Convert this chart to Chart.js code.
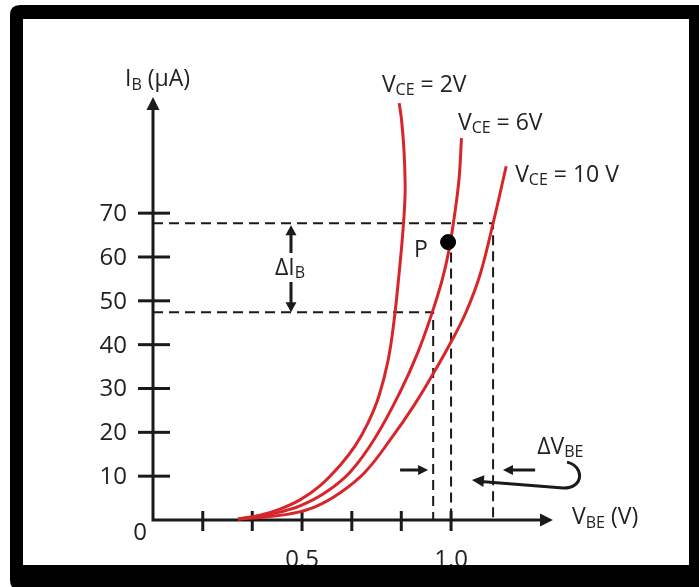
<!DOCTYPE html>
<html>
<head>
<meta charset="utf-8">
<script src="https://cdn.jsdelivr.net/npm/chart.js@4.4.0/dist/chart.umd.min.js"></script>
<style>
  html, body { margin: 0; padding: 0; background: #fff; }
  canvas { display: block; }
</style>
</head>
<body>
<canvas id="chart" width="699" height="587"></canvas>
<script>
// V_BE (V) and I_B (uA)
const vbe2V  = [0.285, 0.359, 0.426, 0.493, 0.560, 0.628, 0.678, 0.721, 0.758, 0.789, 0.809, 0.826, 0.836, 0.844, 0.846, 0.842, 0.834, 0.826];
const ib2V   = [0.2, 1.1, 2.5, 4.6, 7.8, 12.5, 16.9, 22.1, 28.3, 36.5, 45.6, 56.5, 63.8, 71.4, 76.4, 84.4, 91.2, 95.1];
const vbe6V  = [0.285, 0.359, 0.426, 0.493, 0.577, 0.661, 0.745, 0.829, 0.889, 0.936, 0.970, 0.993, 1.013, 1.027, 1.035];
const ib6V   = [0.2, 0.9, 1.8, 3.2, 6.2, 10.9, 18.7, 29.2, 38.3, 47.2, 54.7, 61.6, 70.2, 78.0, 87.1];
const vbe10V = [0.285, 0.376, 0.460, 0.544, 0.628, 0.711, 0.795, 0.879, 0.953, 1.003, 1.050, 1.097, 1.141, 1.185];
const ib10V  = [0.2, 0.7, 1.4, 3.0, 6.2, 10.9, 18.2, 26.5, 34.9, 41.0, 47.4, 55.9, 67.7, 80.7];

// construction lines
const ibHigh = 67.7, ibLow = 47.4;
const vbeLow = 0.94, vbeP = 1.0, vbeHigh = 1.141;
const pointP = { x: 0.99, y: 63.4 };

// axis ticks
const yTicks = [10, 20, 30, 40, 50, 60, 70];
const xTicks = [0.167, 0.333, 0.5, 0.667, 0.833, 1.0];
const xTickLabels = ['', '', '0.5', '', '', '1.0'];

const RED = '#d8252a';
const INK = '#1a1a1a';
const TEXT = '#222';
const FONT = '"Open Sans", "DejaVu Sans", sans-serif';

function zip(xs, ys) {
    return xs.map((v, i) => ({ x: v, y: ys[i] }));
}

function curve(label, xs, ys) {
    return {
        label: label,
        data: zip(xs, ys),
        showLine: true,
        borderColor: RED,
        borderWidth: 3,
        pointRadius: 0,
        tension: 0.4,
        clip: false
    };
}

function dashed(points) {
    return {
        data: points,
        showLine: true,
        borderColor: INK,
        borderWidth: 2,
        borderDash: [10, 6],
        pointRadius: 0,
        tension: 0,
        clip: false
    };
}

// text with subscripts: parts = [[text, isSub], ...]
function richText(ctx, parts, px, py, size) {
    let cx = px;
    parts.forEach(([t, sub]) => {
        const s = sub ? Math.round(size * 0.7) : size;
        ctx.font = s + 'px ' + FONT;
        ctx.fillText(t, cx, py + (sub ? size * 0.24 : 0));
        cx += ctx.measureText(t).width;
    });
}

function arrowHead(ctx, tx, ty, ang, len, half) {
    const c = Math.cos(ang), s = Math.sin(ang);
    ctx.beginPath();
    ctx.moveTo(tx, ty);
    ctx.lineTo(tx - len * c + half * s, ty - len * s - half * c);
    ctx.lineTo(tx - len * c - half * s, ty - len * s + half * c);
    ctx.closePath();
    ctx.fill();
}

// =========================
// AXES WITH ARROWS AND CROSS TICKS
// =========================
const axesPlugin = {
    id: 'axes',
    beforeDatasetsDraw(chart) {
        const { ctx, scales: { x, y } } = chart;
        const x0 = x.getPixelForValue(0), y0 = y.getPixelForValue(0);
        const xEnd = x.getPixelForValue(x.max), yEnd = y.getPixelForValue(y.max);
        ctx.save();
        ctx.strokeStyle = INK;
        ctx.fillStyle = INK;
        ctx.lineWidth = 3;
        ctx.beginPath();
        ctx.moveTo(x0, y0); ctx.lineTo(xEnd - 8, y0);
        ctx.moveTo(x0, y0 + 1.5); ctx.lineTo(x0, yEnd + 8);
        ctx.stroke();
        arrowHead(ctx, xEnd, y0, 0, 13, 6.5);
        arrowHead(ctx, x0, yEnd, -Math.PI / 2, 13, 6.5);

        ctx.fillStyle = TEXT;
        ctx.font = '24px ' + FONT;
        ctx.textBaseline = 'middle';
        ctx.textAlign = 'right';
        yTicks.forEach(v => {
            const py = y.getPixelForValue(v);
            ctx.beginPath(); ctx.moveTo(x0 - 15, py); ctx.lineTo(x0 + 17, py); ctx.stroke();
            ctx.fillText(String(v), x0 - 26, py + 1);
        });
        ctx.textAlign = 'center';
        xTicks.forEach((v, i) => {
            const px = x.getPixelForValue(v);
            ctx.beginPath(); ctx.moveTo(px, y0 - 9); ctx.lineTo(px, y0 + 11); ctx.stroke();
            if (xTickLabels[i]) ctx.fillText(xTickLabels[i], px, y0 + 40);
        });
        ctx.fillText('0', x0 - 13, y0 + 13);
        ctx.restore();
    }
};

// =========================
// LABELS, ARROWS, FRAME
// =========================
const notesPlugin = {
    id: 'notes',
    afterDatasetsDraw(chart) {
        const { ctx, scales: { x, y } } = chart;
        const X = v => x.getPixelForValue(v), Y = v => y.getPixelForValue(v);
        ctx.save();
        ctx.fillStyle = TEXT;
        ctx.textBaseline = 'middle';
        ctx.textAlign = 'left';

        richText(ctx, [['I', false], ['B', true], [' (\u00b5A)', false]], X(-0.094), Y(100.5), 23);
        richText(ctx, [['V', false], ['CE', true], [' = 2V', false]], X(0.768), Y(99.2), 23);
        richText(ctx, [['V', false], ['CE', true], [' = 6V', false]], X(1.023), Y(90.5), 23);
        richText(ctx, [['V', false], ['CE', true], [' = 10 V', false]], X(1.215), Y(78.7), 23);
        richText(ctx, [['V', false], ['BE', true], [' (V)', false]], X(1.406), Y(0.5), 23);
        richText(ctx, [['\u0394I', false], ['B', true]], X(0.409), Y(57.5), 23);
        richText(ctx, [['\u0394V', false], ['BE', true]], X(1.289), Y(16.6), 23);
        ctx.font = '23px ' + FONT;
        ctx.textAlign = 'center';
        ctx.fillText('P', X(0.899), Y(61.6));

        ctx.fillStyle = INK;
        ctx.strokeStyle = INK;
        ctx.lineWidth = 3;
        // delta I_B double arrow
        const ax = X(0.463);
        ctx.beginPath();
        ctx.moveTo(ax, Y(ibHigh) + 8); ctx.lineTo(ax, Y(60.9));
        ctx.moveTo(ax, Y(54.3)); ctx.lineTo(ax, Y(ibLow) - 8);
        ctx.stroke();
        arrowHead(ctx, ax, Y(ibHigh) + 2, -Math.PI / 2, 10, 5.5);
        arrowHead(ctx, ax, Y(ibLow), Math.PI / 2, 10, 5.5);

        // small arrows pointing at the V_BE dashed lines
        const ay = Y(11.4);
        ctx.beginPath();
        ctx.moveTo(X(0.829), ay); ctx.lineTo(X(0.923) - 8, ay);
        ctx.moveTo(X(1.282), ay); ctx.lineTo(X(1.174) + 8, ay);
        ctx.stroke();
        arrowHead(ctx, X(0.923), ay, 0, 10, 5);
        arrowHead(ctx, X(1.174), ay, Math.PI, 10, 5);

        // hooked arrow from the delta V_BE label
        ctx.beginPath();
        ctx.moveTo(X(1.389), Y(13.2));
        ctx.bezierCurveTo(X(1.445), Y(12.4), X(1.450), Y(7.3), X(1.376), Y(7.3));
        ctx.lineTo(X(1.100), Y(8.8));
        ctx.stroke();
        const ang = Math.atan2(Y(9.1) - Y(7.3), X(1.070) - X(1.376));
        arrowHead(ctx, X(1.070), Y(9.1), ang, 12, 6);
        ctx.restore();
    },
    afterDraw(chart) {
        const ctx = chart.ctx;
        ctx.save();
        ctx.fillStyle = '#000';
        const l = 10, t = 5, r = 712, b = 590, rad = 10;
        ctx.beginPath();
        ctx.moveTo(l + rad, t);
        ctx.lineTo(r, t);
        ctx.lineTo(r, b);
        ctx.lineTo(l + rad, b);
        ctx.quadraticCurveTo(l, b, l, b - rad);
        ctx.lineTo(l, t + rad);
        ctx.quadraticCurveTo(l, t, l + rad, t);
        ctx.closePath();
        ctx.rect(23, 19, 689 - 23, 565 - 19);
        ctx.fill('evenodd');
        ctx.restore();
    }
};

new Chart(document.getElementById('chart'), {
    type: 'scatter',
    data: {
        datasets: [
            {
                data: [pointP],
                pointRadius: 7.5,
                pointBackgroundColor: '#000',
                pointBorderColor: '#000',
                clip: false
            },
            curve('VCE = 2V', vbe2V, ib2V),
            curve('VCE = 6V', vbe6V, ib6V),
            curve('VCE = 10 V', vbe10V, ib10V),
            dashed([{ x: 0, y: ibHigh }, { x: vbeHigh, y: ibHigh }, { x: vbeHigh, y: 0 }]),
            dashed([{ x: 0, y: ibLow }, { x: vbeLow, y: ibLow }, { x: vbeLow, y: 0 }]),
            dashed([{ x: vbeP, y: 61 }, { x: vbeP, y: 0 }])
        ]
    },
    options: {
        responsive: false,
        animation: false,
        layout: { padding: { left: 153, right: 146, top: 97, bottom: 67 } },
        scales: {
            x: { type: 'linear', min: 0, max: 1.342, display: false },
            y: { type: 'linear', min: 0, max: 96.5, display: false }
        },
        plugins: { legend: { display: false }, tooltip: { enabled: false } }
    },
    plugins: [axesPlugin, notesPlugin]
});
</script>
</body>
</html>
